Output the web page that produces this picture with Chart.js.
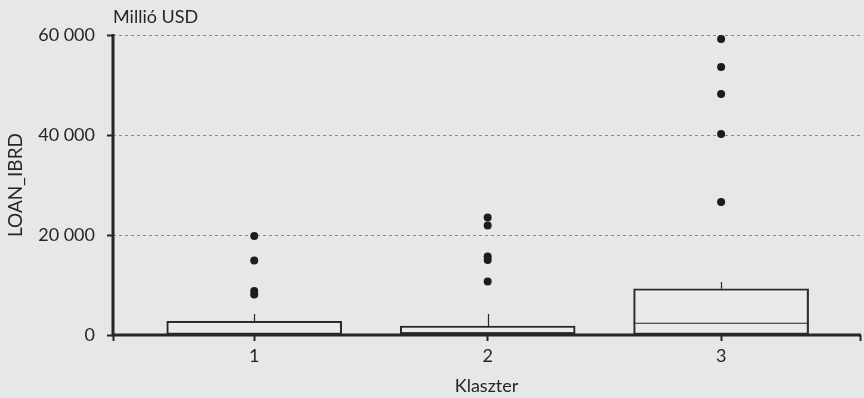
<!DOCTYPE html>
<html>
<head>
<meta charset="utf-8">
<script src="https://cdn.jsdelivr.net/npm/chart.js@4/dist/chart.umd.min.js"></script>
<style>
  html, body { margin: 0; padding: 0; background: #e6e7e9; }
  #wrap { width: 864px; height: 398px; }
</style>
</head>
<body>
<div id="wrap"><canvas id="c" width="864" height="398"></canvas></div>
<script>
// Cluster box plots of LOAN_IBRD (million USD)
const clusters = [1, 2, 3];
const q1 = [0, 150, 0];
const median = [250, 450, 2350];
const q3 = [2750, 1800, 9250];
const whiskerHigh = [4200, 4200, 10600];
const outliers1 = [19800, 14900, 8800, 8100];
const outliers2 = [23500, 21900, 15700, 15000, 10700];
const outliers3 = [59200, 53600, 48200, 40200, 26600];
const yTicks = [0, 20000, 40000, 60000];

const FONT = 'Lato, "Open Sans", sans-serif';
const INK = '#262626';

const boxData = clusters.map((c, i) => ({ x: c, y: [q1[i], q3[i]] }));
const outlierData = [outliers1, outliers2, outliers3].flatMap((vals, i) =>
  vals.map(v => ({ x: clusters[i], y: v })));

const fmt = v => String(v).replace(/\B(?=(\d{3})+(?!\d))/g, '\u00a0');

// background, solid axis lines, whiskers, medians and the unit label
const boxExtras = {
  id: 'boxExtras',
  beforeDraw(chart) {
    const { ctx } = chart;
    ctx.save();
    ctx.fillStyle = '#e6e7e9';
    ctx.fillRect(0, 0, chart.width, chart.height);
    ctx.restore();
  },
  afterDatasetsDraw(chart) {
    const { ctx, scales: { x, y } } = chart;
    const meta = chart.getDatasetMeta(0);
    ctx.save();
    ctx.strokeStyle = INK;
    ctx.lineWidth = 1.2;
    clusters.forEach((c, i) => {
      const cx = x.getPixelForValue(c);
      const bar = meta.data[i];
      const half = bar.width / 2;
      ctx.beginPath();
      ctx.moveTo(Math.round(cx) + 0.5, y.getPixelForValue(q3[i]));
      ctx.lineTo(Math.round(cx) + 0.5, y.getPixelForValue(whiskerHigh[i]));
      ctx.stroke();
      ctx.beginPath();
      const my = y.getPixelForValue(median[i]);
      ctx.moveTo(cx - half, my);
      ctx.lineTo(cx + half, my);
      ctx.stroke();
    });
    // axis lines
    const x0 = x.left, y0 = y.getPixelForValue(0);
    ctx.lineWidth = 3;
    ctx.beginPath();
    ctx.moveTo(x0, y.getPixelForValue(60000) - 1);
    ctx.lineTo(x0, y0 + 1.5);
    ctx.moveTo(x0 - 1.5, y0);
    ctx.lineTo(x.right + 1, y0);
    ctx.stroke();

    ctx.fillStyle = INK;
    ctx.font = '18px ' + FONT;
    ctx.textBaseline = 'alphabetic';
    ctx.textAlign = 'left';
    ctx.fillText('Millió USD', chart.chartArea.left, 23);
    ctx.restore();
  }
};

new Chart(document.getElementById('c'), {
  type: 'bar',
  data: {
    datasets: [
      {
        type: 'bar',
        data: boxData,
        backgroundColor: 'rgba(255,255,255,0.12)',
        borderColor: INK,
        borderWidth: 1.5,
        borderSkipped: false,
        barThickness: 175,
        order: 2
      },
      {
        type: 'scatter',
        data: outlierData,
        pointRadius: 4,
        pointBackgroundColor: '#1c1c1c',
        pointBorderWidth: 0,
        clip: false,
        order: 1
      }
    ]
  },
  plugins: [boxExtras],
  options: {
    responsive: false,
    animation: false,
    devicePixelRatio: 1,
    layout: { padding: { top: 35, right: 1, bottom: 0, left: 0 } },
    plugins: { legend: { display: false }, tooltip: { enabled: false } },
    scales: {
      x: {
        type: 'linear',
        offset: false,
        min: 0.395,
        max: 3.595,
        afterBuildTicks(scale) {
          scale.ticks = [0.395, ...clusters, 3.595].map(v => ({ value: v }));
        },
        afterFit(scale) {
          scale.height = 63;
          scale.paddingLeft = 0;
          scale.paddingRight = 0;
        },
        ticks: {
          callback: v => (Number.isInteger(v) ? String(v) : ''),
          color: INK,
          font: { family: FONT, size: 18 },
          padding: 4,
          maxRotation: 0,
          autoSkip: false
        },
        grid: {
          offset: false,
          drawOnChartArea: false,
          drawTicks: true,
          tickLength: 6,
          tickColor: INK,
          tickWidth: 2
        },
        border: { display: false },
        title: {
          display: true,
          text: 'Klaszter',
          color: INK,
          font: { family: FONT, size: 18 },
          padding: { top: 0, bottom: 1 }
        }
      },
      y: {
        min: 0,
        max: 60000,
        afterBuildTicks(scale) {
          scale.ticks = yTicks.map(v => ({ value: v }));
        },
        afterFit(scale) { scale.width = 113; },
        ticks: {
          callback: v => fmt(v),
          color: INK,
          font: { family: FONT, size: 18 },
          padding: 12
        },
        grid: {
          color: ctx => (ctx.tick && ctx.tick.value === 0 ? 'rgba(0,0,0,0)' : '#8a8a8a'),
          lineWidth: 1,
          tickBorderDash: [],
          drawTicks: true,
          tickLength: 6,
          tickColor: INK,
          tickWidth: 2
        },
        border: { display: false, dash: [3, 3] },
        title: {
          display: true,
          text: 'LOAN_IBRD',
          color: INK,
          font: { family: FONT, size: 19 },
          padding: { top: 4, bottom: 0 }
        }
      }
    }
  }
});
</script>
</body>
</html>
